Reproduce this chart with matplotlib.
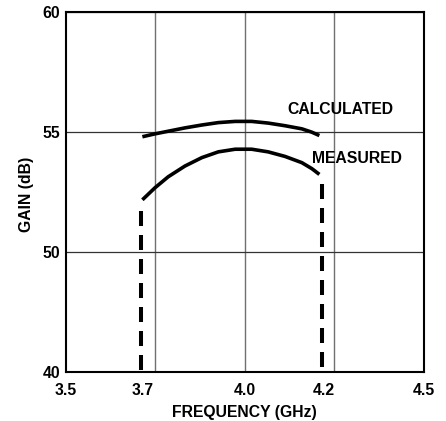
import numpy as np
import matplotlib
matplotlib.use("Agg")
import matplotlib.pyplot as plt

plt.rcParams['font.family'] = ['Liberation Sans', 'DejaVu Sans']
plt.rcParams['font.weight'] = 'bold'
plt.rcParams['axes.labelweight'] = 'bold'
plt.rcParams['font.size'] = 11.3
plt.rcParams['lines.scale_dashes'] = False

# values
freq = [3.714, 3.749, 3.786, 3.833, 3.880, 3.926, 3.973, 4.019, 4.065, 4.112, 4.159, 4.187, 4.208]
gain_calc = [54.81, 54.93, 55.04, 55.18, 55.30, 55.40, 55.45, 55.45, 55.38, 55.27, 55.14, 55.00, 54.86]
gain_meas = [52.18, 52.68, 53.14, 53.59, 53.94, 54.18, 54.29, 54.29, 54.18, 53.99, 53.73, 53.48, 53.24]

# band edges (dashed drop lines) and where they stop
band_x = [3.711, 4.214]
band_top = [51.73, 52.82]

# axis ticks: y levels sit evenly spaced on the axis (broken scale)
y_levels = [40, 50, 55, 60]
x_tick_pos = [3.5, 3.715, 4.0, 4.22, 4.5]
x_tick_labels = ['3.5', '3.7', '4.0', '4.2', '4.5']
x_grid = [3.75, 4.0, 4.25]


def fwd(v):
    return np.interp(v, y_levels, [0, 1, 2, 3])


def inv(v):
    return np.interp(v, [0, 1, 2, 3], y_levels)


fig = plt.figure(figsize=(4.46, 4.21), dpi=100)
ax = fig.add_axes([0.1473, 0.1164, 0.8034, 0.8544])
ax.set_yscale('function', functions=(fwd, inv))
ax.set_xlim(3.5, 4.5)
ax.set_ylim(40, 60)

ax.plot(freq, gain_calc, color='k', lw=2.6, solid_capstyle='butt')
ax.plot(freq, gain_meas, color='k', lw=2.6, solid_capstyle='butt')
for x, top in zip(band_x, band_top):
    ax.plot([x, x], [top, 40], color='k', lw=2.9, dashes=(10.8, 6.48))

ax.set_yticks(y_levels)
ax.set_yticklabels([str(v) for v in y_levels])
ax.set_xticks(x_tick_pos)
ax.set_xticklabels(x_tick_labels)
ax.xaxis.remove_overlapping_locs = False
ax.set_xticks(x_grid, minor=True)
ax.tick_params(which='both', length=0)
ax.tick_params(axis='x', pad=8)
ax.tick_params(axis='y', pad=4)
ax.grid(which='minor', axis='x', color='#707070', lw=1.0)
ax.grid(which='major', axis='y', color='#333333', lw=0.9)
for s in ax.spines.values():
    s.set_linewidth(1.5)

ax.text(4.118, 55.76, 'CALCULATED', ha='left', va='baseline')
ax.text(4.187, 53.73, 'MEASURED', ha='left', va='baseline')

ax.set_xlabel('FREQUENCY (GHz)')
ax.xaxis.label.set_va('baseline')
ax.xaxis.set_label_coords(0.5, -0.1243)
ax.set_ylabel('GAIN (dB)')
ax.yaxis.label.set_va('baseline')
ax.yaxis.set_label_coords(-0.0977, 0.495)

fig.savefig('out.png', dpi=100)
